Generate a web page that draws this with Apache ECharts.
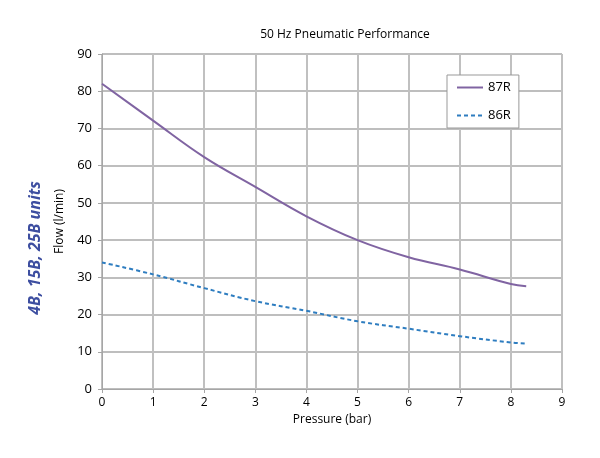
<!DOCTYPE html>
<html>
<head>
<meta charset="utf-8">
<script src="https://cdn.jsdelivr.net/npm/echarts@6/dist/echarts.min.js"></script>
<style>html,body{margin:0;padding:0;background:#fff}#c{width:600px;height:458px}</style>
</head>
<body>
<div id="c"></div>
<script>
const pressure = [0, 1, 2, 3, 4, 5, 6, 7, 8, 8.3];
const flow87R = [82, 72.1, 62.3, 54.3, 46.4, 40, 35.4, 32.1, 28.2, 27.6];
const flow86R = [34, 30.8, 27.1, 23.6, 21, 18.2, 16.2, 14.2, 12.5, 12.2];
const seriesNames = ['87R', '86R'];
const titleText = '50 Hz Pneumatic Performance';
const sideText = '4B, 15B, 25B units';

const font = '"Open Sans", "Noto Sans", sans-serif';
const chart = echarts.init(document.getElementById('c'), null, {renderer: 'canvas'});
const pair = (xs, ys) => xs.map((x, i) => [x, ys[i]]);
chart.setOption({
  animation: false,
  backgroundColor: '#fff',
  textStyle: {fontFamily: font},
  title: {text: titleText, left: 340, top: 24, textAlign: 'center',
    textStyle: {fontSize: 12, fontWeight: 'normal', color: '#000', fontFamily: font}},
  grid: {left: 102, right: 38, top: 54, bottom: 69},
  legend: {
    orient: 'vertical', left: 447, top: 75,
    padding: [6, 8, 6, 9], itemGap: 15, itemWidth: 26, itemHeight: 14,
    backgroundColor: '#fff', borderColor: '#999', borderWidth: 1,
    itemStyle: {opacity: 0},
    textStyle: {fontSize: 13, color: '#000', fontFamily: font},
    data: seriesNames
  },
  xAxis: {
    type: 'value', min: 0, max: 9, interval: 1,
    name: 'Pressure (bar)', nameLocation: 'middle', nameGap: 24,
    nameTextStyle: {fontSize: 12, color: '#000', fontFamily: font},
    axisLine: {show: true, lineStyle: {color: '#a6a6a6', width: 1}},
    axisTick: {show: true, length: 4, lineStyle: {color: '#a6a6a6'}},
    axisLabel: {fontSize: 12, color: '#000', margin: 8, fontFamily: font},
    splitLine: {show: true, lineStyle: {color: '#c0c0c0', width: 2}}
  },
  yAxis: {
    type: 'value', min: 0, max: 90, interval: 10,
    name: 'Flow (l/min)', nameLocation: 'middle', nameGap: 36, nameRotate: 90,
    nameTextStyle: {fontSize: 12, color: '#000', fontFamily: font},
    axisLine: {show: true, lineStyle: {color: '#a6a6a6', width: 1}},
    axisTick: {show: true, length: 4, lineStyle: {color: '#a6a6a6'}},
    axisLabel: {fontSize: 13, color: '#000', margin: 10, fontFamily: font},
    splitLine: {show: true, lineStyle: {color: '#a9a9a9', width: 1.5}}
  },
  graphic: [{
    type: 'text', x: 35, y: 248, rotation: Math.PI / 2,
    style: {text: sideText, fill: '#3d4ea0', font: 'italic bold 16px ' + font,
      textAlign: 'center', textVerticalAlign: 'middle'}
  }],
  series: [
    {name: seriesNames[0], type: 'line', data: pair(pressure, flow87R), smooth: 0.4,
      showSymbol: false, symbol: 'none', color: '#8064a2',
      lineStyle: {color: '#8064a2', width: 2}},
    {name: seriesNames[1], type: 'line', data: pair(pressure, flow86R), smooth: 0.4,
      showSymbol: false, symbol: 'none', color: '#2e7dc0',
      lineStyle: {color: '#2e7dc0', width: 2, type: [4, 3]}}
  ]
});
</script>
</body>
</html>
